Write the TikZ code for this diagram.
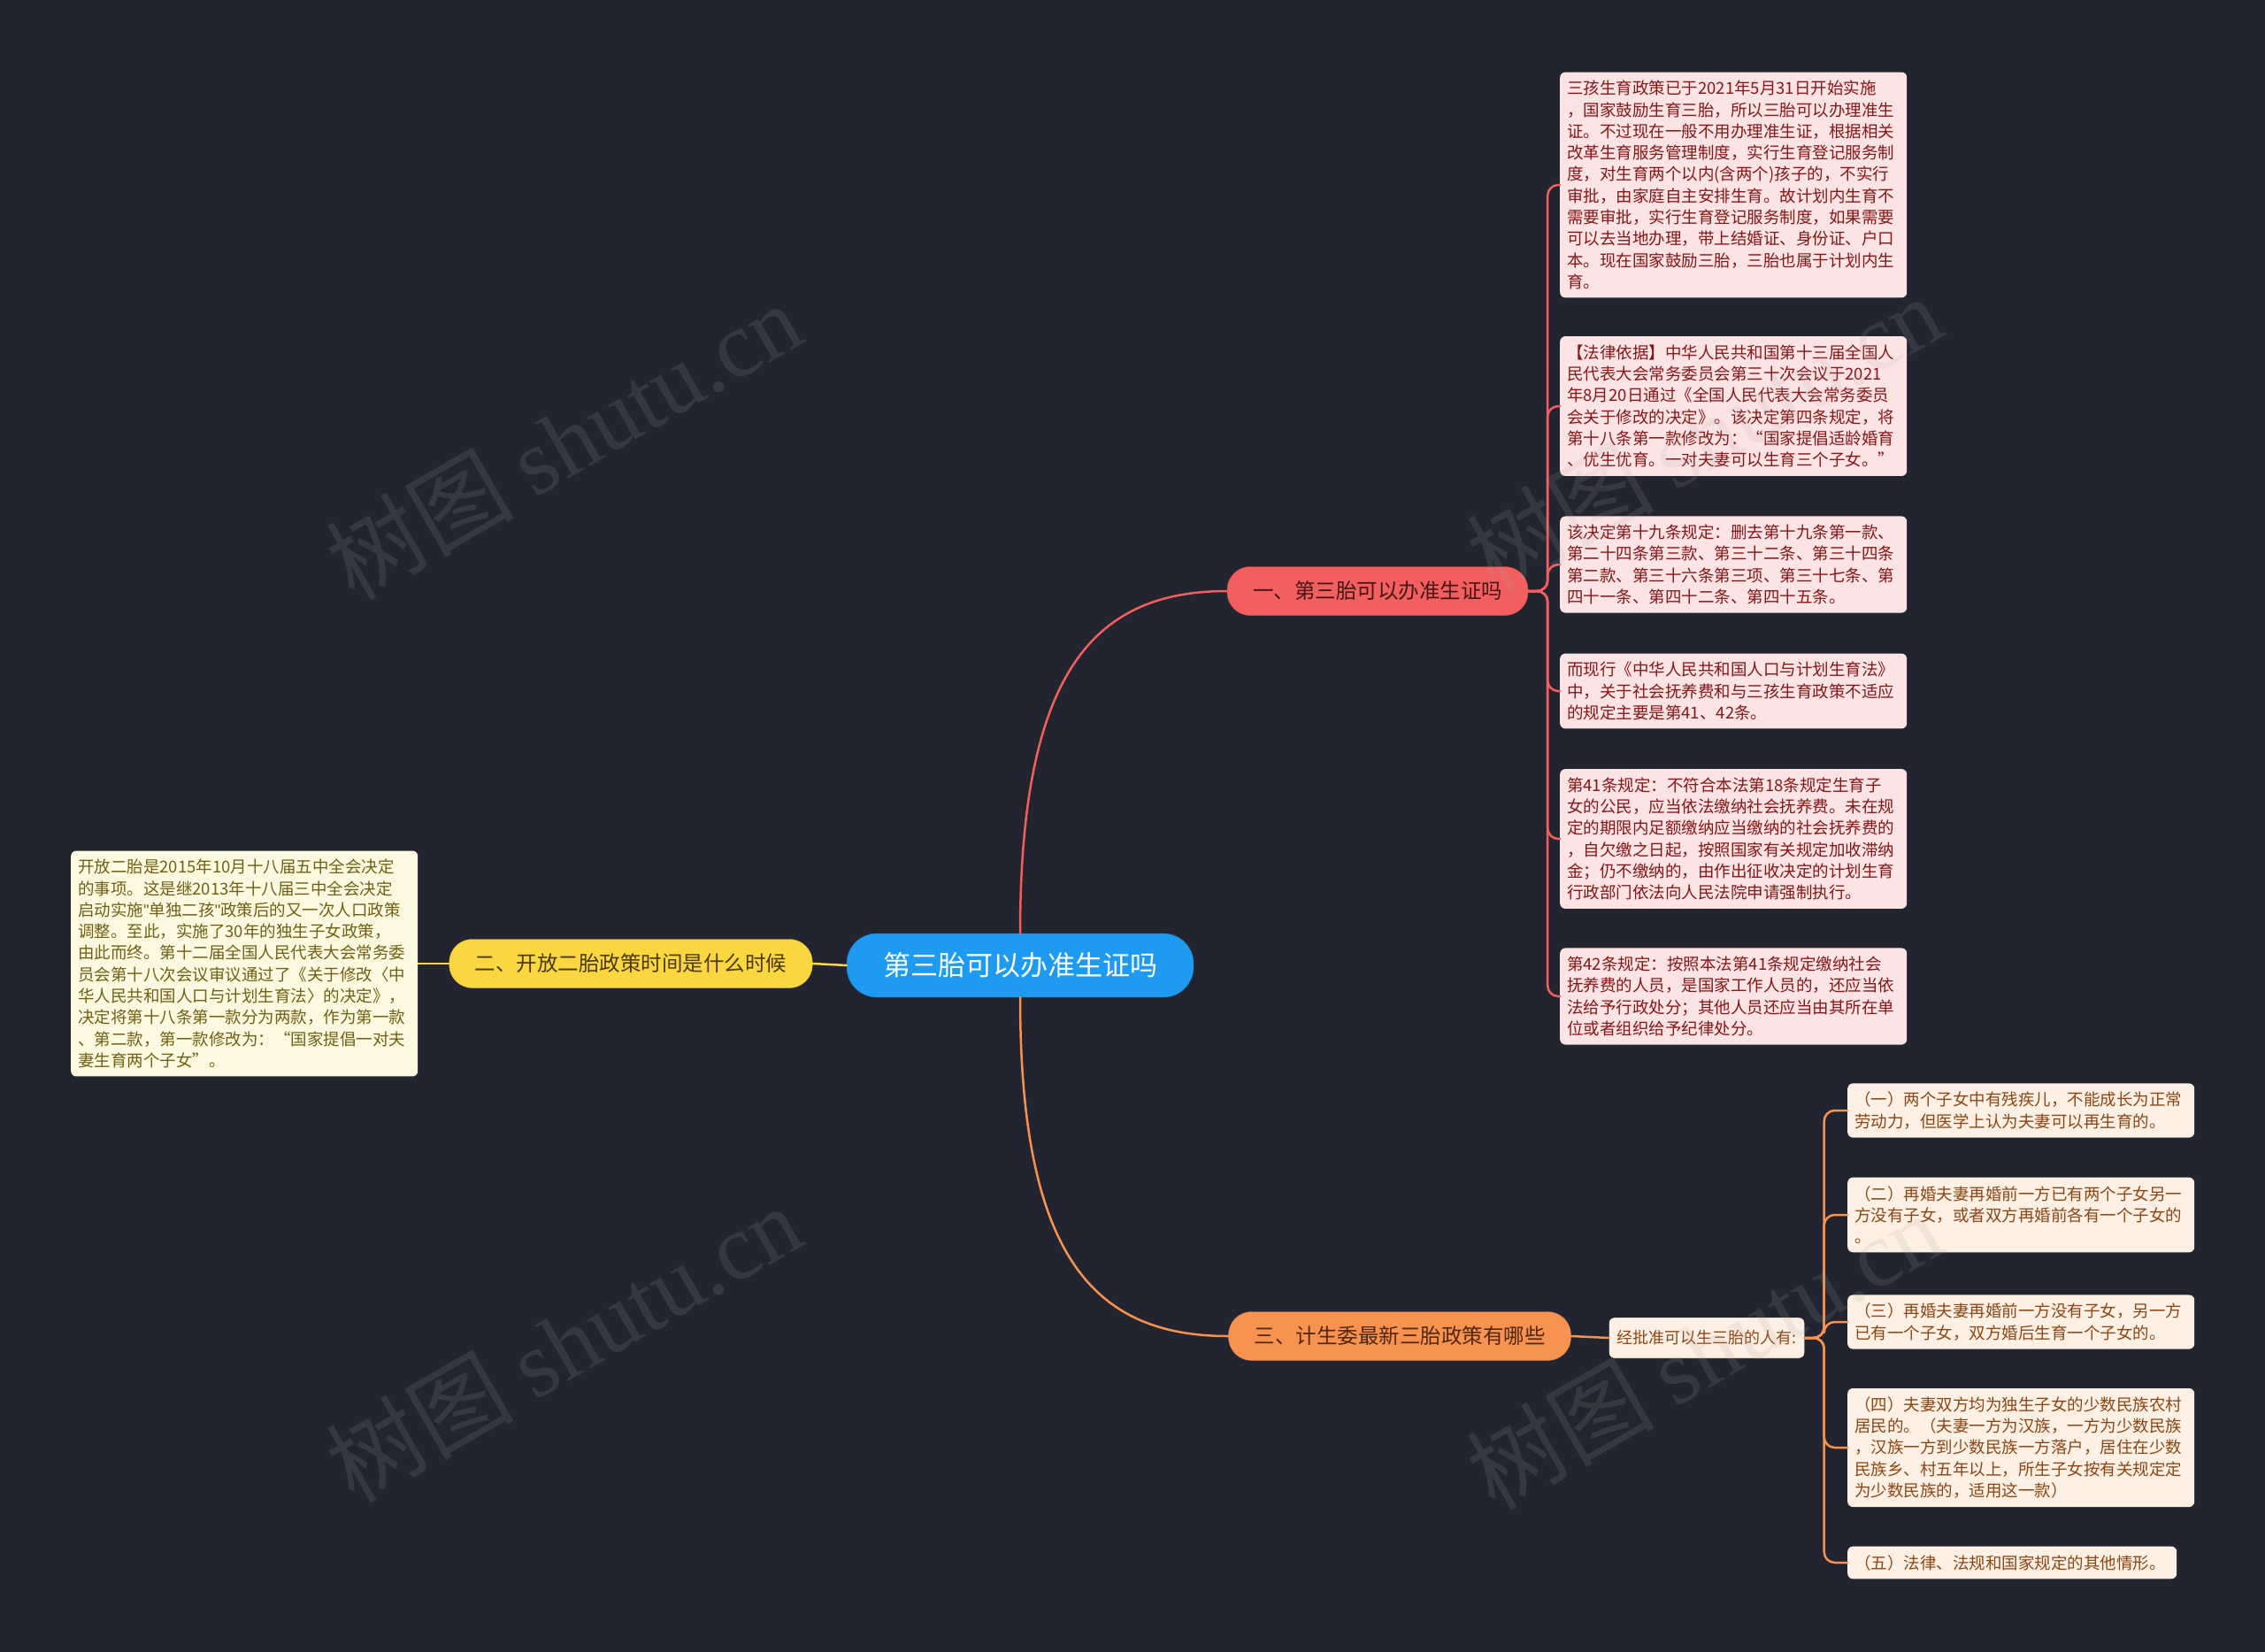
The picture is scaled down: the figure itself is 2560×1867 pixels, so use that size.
\documentclass[tikz,border=0pt]{standalone}
\usepackage{fontspec}
\usepackage{tikz}
\setmainfont{Noto Sans CJK SC}
\newfontfamily\wmfont{Liberation Serif}
\newfontfamily\latinfont{Liberation Sans}
\definecolor{bg}{RGB}{34,37,48}
\definecolor{rootfill}{RGB}{30,155,240}
\definecolor{redfill}{RGB}{243,94,94}
\definecolor{redtext}{RGB}{70,22,22}
\definecolor{redleaf}{RGB}{253,228,228}
\definecolor{redleaftext}{RGB}{135,22,22}
\definecolor{yelfill}{RGB}{250,214,64}
\definecolor{yeltext}{RGB}{75,58,10}
\definecolor{yelleaf}{RGB}{253,249,225}
\definecolor{yelleaftext}{RGB}{112,96,20}
\definecolor{orafill}{RGB}{247,146,80}
\definecolor{oratext}{RGB}{82,40,15}
\definecolor{oraleaf}{RGB}{254,240,228}
\definecolor{oraleaftext}{RGB}{140,70,20}

\begin{document}
\begin{tikzpicture}[x=1pt, y=-1pt, line join=round, line cap=round,
  root/.style={fill=rootfill, draw=rootfill!80!black, text=white, minimum width=392pt,
    minimum height=72pt, rounded corners=34pt, font=\fontsize{31}{36}\selectfont},
  branch/.style={minimum height=55pt, inner xsep=29pt, rounded corners=26pt,
    font=\fontsize{23.5}{28}\selectfont},
  leaf/.style={anchor=west, text width=376pt, align=left, inner xsep=8pt, inner ysep=9.5pt,
    rounded corners=6pt, font=\fontsize{18.5}{24.3}\selectfont},
  redleafbox/.style={leaf, fill=redleaf, text=redleaftext},
  yelleafbox/.style={leaf, fill=yelleaf, text=yelleaftext},
  oraleafbox/.style={leaf, fill=oraleaf, text=oraleaftext},
  redline/.style={draw=redfill, line width=2.5pt},
  yelline/.style={draw=yelfill, line width=2.5pt},
  oraline/.style={draw=orafill, line width=2.5pt},
  wm/.style={text=gray!70, opacity=0.15, font=\fontsize{106}{106}\selectfont}]
\fill[bg] (0,0) rectangle (2560,1867);
\useasboundingbox (0,0) rectangle (2560,1867);

% main topic and branches
\node[root] (root) at (1153,1091) {第三胎可以办准生证吗};
\node[branch, fill=redfill, draw=redfill!85!black, text=redtext] (b1) at (1557,668) {一、第三胎可以办准生证吗};
\node[branch, fill=yelfill, draw=yelfill!85!black, text=yeltext] (b2) at (713,1089) {二、开放二胎政策时间是什么时候};
\node[branch, fill=orafill, draw=orafill!85!black, text=oratext] (b3) at (1582,1510) {三、计生委最新三胎政策有哪些};

% branch 1
\node[redleafbox] (r1) at (1763,209) {三孩生育政策已于2021年5月31日开始实施\\
，国家鼓励生育三胎，所以三胎可以办理准生\\
证。不过现在一般不用办理准生证，根据相关\\
改革生育服务管理制度，实行生育登记服务制\\
度，对生育两个以内(含两个)孩子的，不实行\\
审批，由家庭自主安排生育。故计划内生育不\\
需要审批，实行生育登记服务制度，如果需要\\
可以去当地办理，带上结婚证、身份证、户口\\
本。现在国家鼓励三胎，三胎也属于计划内生\\
育。};
\node[redleafbox] (r2) at (1763,459) {【法律依据】中华人民共和国第十三届全国人\\
民代表大会常务委员会第三十次会议于2021\\
年8月20日通过《全国人民代表大会常务委员\\
会关于修改的决定》。该决定第四条规定，将\\
第十八条第一款修改为：“国家提倡适龄婚育\\
、优生优育。一对夫妻可以生育三个子女。”};
\node[redleafbox] (r3) at (1763,638) {该决定第十九条规定：删去第十九条第一款、\\
第二十四条第三款、第三十二条、第三十四条\\
第二款、第三十六条第三项、第三十七条、第\\
四十一条、第四十二条、第四十五条。};
\node[redleafbox] (r4) at (1763,781) {而现行《中华人民共和国人口与计划生育法》\\
中，关于社会抚养费和与三孩生育政策不适应\\
的规定主要是第41、42条。};
\node[redleafbox] (r5) at (1763,948) {第41条规定：不符合本法第18条规定生育子\\
女的公民，应当依法缴纳社会抚养费。未在规\\
定的期限内足额缴纳应当缴纳的社会抚养费的\\
，自欠缴之日起，按照国家有关规定加收滞纳\\
金；仍不缴纳的，由作出征收决定的计划生育\\
行政部门依法向人民法院申请强制执行。};
\node[redleafbox] (r6) at (1763,1126) {第42条规定：按照本法第41条规定缴纳社会\\
抚养费的人员，是国家工作人员的，还应当依\\
法给予行政处分；其他人员还应当由其所在单\\
位或者组织给予纪律处分。};

% branch 2
\node[yelleafbox] (y1) at (80,1089) {开放二胎是2015年10月十八届五中全会决定\\
的事项。这是继2013年十八届三中全会决定\\
启动实施{\latinfont "}单独二孩{\latinfont "}政策后的又一次人口政策\\
调整。至此，实施了30年的独生子女政策，\\
由此而终。第十二届全国人民代表大会常务委\\
员会第十八次会议审议通过了《关于修改〈中\\
华人民共和国人口与计划生育法〉的决定》，\\
决定将第十八条第一款分为两款，作为第一款\\
、第二款，第一款修改为：“国家提倡一对夫\\
妻生育两个子女”。};

% branch 3
\node[fill=oraleaf, text=oraleaftext, draw=bg!60!black, rounded corners=6pt, minimum height=46pt,
  inner xsep=9pt, font=\fontsize{18}{22}\selectfont] (n3) at (1929,1512) {经批准可以生三胎的人有:};
\node[oraleafbox] (o1) at (2088,1255) {（一）两个子女中有残疾儿，不能成长为正常\\
劳动力，但医学上认为夫妻可以再生育的。};
\node[oraleafbox] (o2) at (2088,1373) {（二）再婚夫妻再婚前一方已有两个子女另一\\
方没有子女，或者双方再婚前各有一个子女的\\
。};
\node[oraleafbox] (o3) at (2088,1494) {（三）再婚夫妻再婚前一方没有子女，另一方\\
已有一个子女，双方婚后生育一个子女的。};
\node[oraleafbox] (o4) at (2088,1636) {（四）夫妻双方均为独生子女的少数民族农村\\
居民的。（夫妻一方为汉族，一方为少数民族\\
，汉族一方到少数民族一方落户，居住在少数\\
民族乡、村五年以上，所生子女按有关规定定\\
为少数民族的，适用这一款）};
\node[oraleafbox, text width=356pt] (o5) at (2088,1766) {（五）法律、法规和国家规定的其他情形。};

% connectors
\draw[redline] (root.north) .. controls (1153,760) and (1236,668) .. (b1.west);
\draw[oraline] (root.south) .. controls (1153,1420) and (1236,1510) .. (b3.west);
\draw[yelline] (root.west) -- (b2.east);
\draw[yelline] (b2.west) -- (y1.east);
\foreach \n in {r1,r2,r3,r4,r5,r6}
  \draw[redline, rounded corners=12pt] (b1.east) -- ++(22,0) |- (\n.west);
\draw[oraline] (b3.east) -- (n3.west);
\foreach \n in {o1,o2,o3,o4,o5}
  \draw[oraline, rounded corners=12pt] (n3.east) -- ++(22,0) |- (\n.west);

% watermarks
\foreach \p in {(637,498),(637,1518),(1926,490),(1926,1526)}
  \node[wm, rotate=30] at \p {树图 {\wmfont shutu.cn}};
\end{tikzpicture}
\end{document}
